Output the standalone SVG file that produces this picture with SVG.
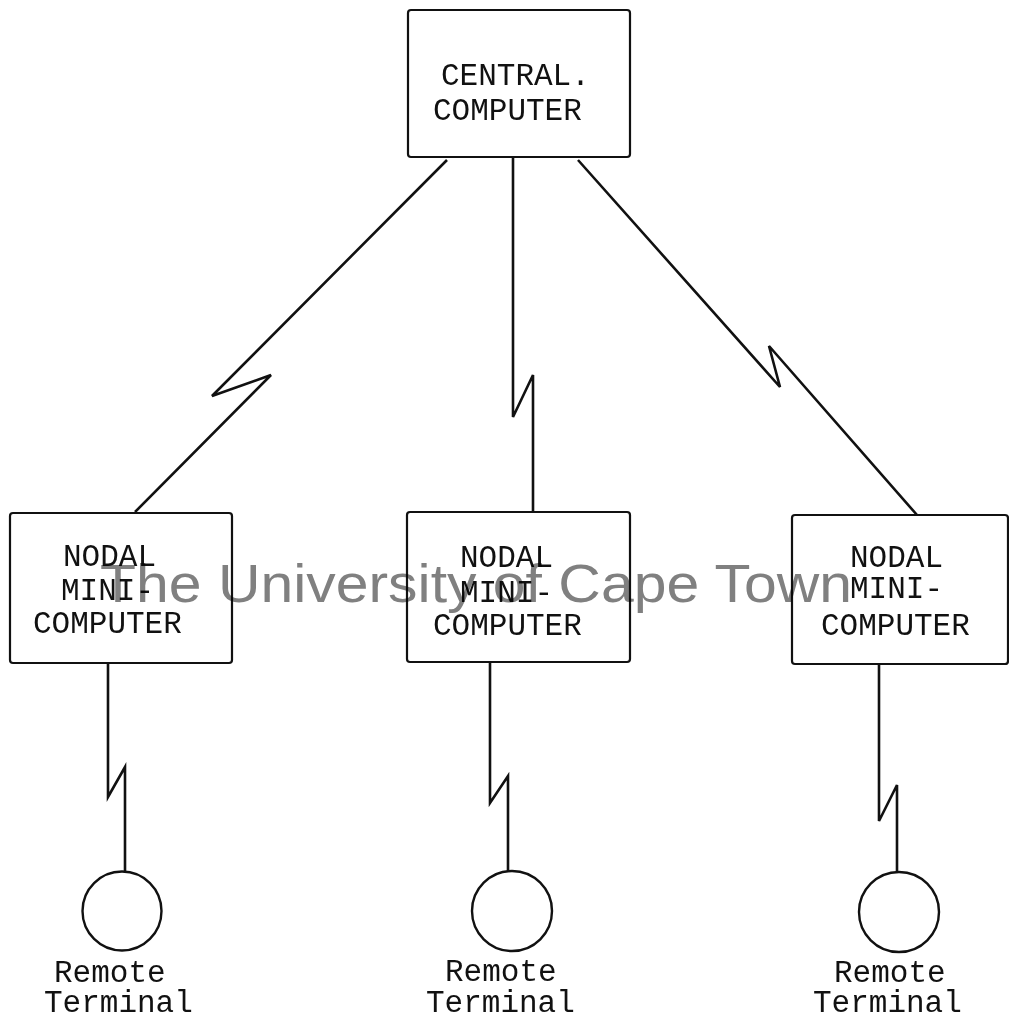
<svg xmlns="http://www.w3.org/2000/svg" width="1009" height="1021" viewBox="0 0 1009 1021">
<style>
.box{fill:none;stroke:#111;stroke-width:2.2}
.lbl{font-family:"Liberation Mono","Courier New",monospace;font-size:31px;fill:#111}
.wire{fill:none;stroke:#111;stroke-width:2.6;stroke-linejoin:miter}
.term{fill:none;stroke:#111;stroke-width:2.4}
.wm{font-family:"Liberation Sans",Arial,sans-serif;font-size:53px;fill:#808080;mix-blend-mode:multiply}
</style>
<rect width="1009" height="1021" fill="#fff"/>
<g id="connectors">
<polyline class="wire" points="447,160 212,396 271,375 135,512"/>
<polyline class="wire" points="513,158 513,417 533,375 533,512"/>
<polyline class="wire" points="578,160 780,387 769,346 917,515"/>
<polyline class="wire" points="108,663 108,797 125,767 125,872"/>
<polyline class="wire" points="490,662 490,803 508,776 508,872"/>
<polyline class="wire" points="879,664 879,821 897,785 897,873"/>
</g>
<g id="central">
<rect class="box" x="408" y="10" width="222" height="147" rx="3"/>
<text class="lbl" x="441" y="85">CENTRAL.</text>
<text class="lbl" x="433" y="120">COMPUTER</text>
</g>
<g id="nodal1">
<rect class="box" x="10" y="513" width="222" height="150" rx="3"/>
<text class="lbl" x="63" y="566">NODAL</text>
<text class="lbl" x="61" y="600">MINI-</text>
<text class="lbl" x="33" y="633">COMPUTER</text>
</g>
<g id="nodal2">
<rect class="box" x="407" y="512" width="223" height="150" rx="3"/>
<text class="lbl" x="460" y="567">NODAL</text>
<text class="lbl" x="460" y="602">MINI-</text>
<text class="lbl" x="433" y="635">COMPUTER</text>
</g>
<g id="nodal3">
<rect class="box" x="792" y="515" width="216" height="149" rx="3"/>
<text class="lbl" x="850" y="567">NODAL</text>
<text class="lbl" x="850" y="598">MINI-</text>
<text class="lbl" x="821" y="635">COMPUTER</text>
</g>
<g id="terminal1">
<circle class="term" cx="122" cy="911" r="39.5"/>
<text class="lbl" x="54" y="982">Remote</text>
<text class="lbl" x="44" y="1012">Terminal</text>
</g>
<g id="terminal2">
<circle class="term" cx="512" cy="911" r="40"/>
<text class="lbl" x="445" y="981">Remote</text>
<text class="lbl" x="426" y="1012">Terminal</text>
</g>
<g id="terminal3">
<circle class="term" cx="899" cy="912" r="40"/>
<text class="lbl" x="834" y="982">Remote</text>
<text class="lbl" x="813" y="1012">Terminal</text>
</g>
<text id="watermark" class="wm" x="100" y="602" textLength="752" lengthAdjust="spacingAndGlyphs">The University of Cape Town</text>
</svg>
